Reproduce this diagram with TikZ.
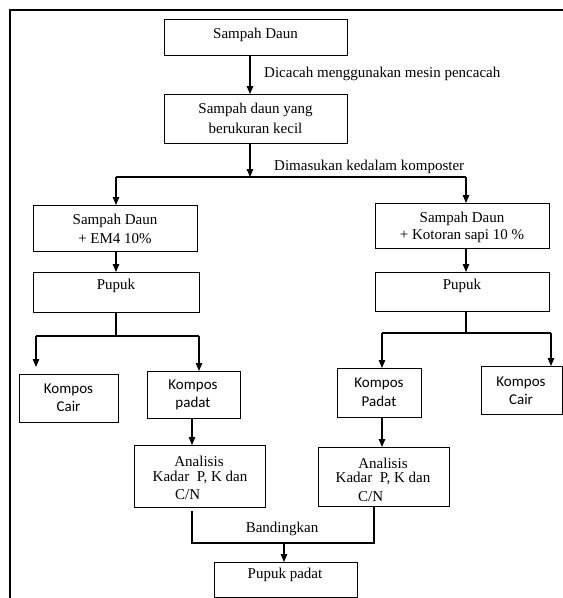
\documentclass[tikz,border=0pt]{standalone}
\usepackage{fontspec}
\setmainfont{Liberation Serif}
\newfontfamily\kfont{Carlito}
\usetikzlibrary{arrows.meta}
\tikzset{
  box/.style={draw, line width=1.2pt, inner sep=0pt, anchor=north west},
  txt/.style={font=\fontsize{15}{17}\selectfont, inner sep=0pt, anchor=center, yshift=-1.5pt},
  ktxt/.style={font=\kfont\fontsize{15}{17}\selectfont, inner sep=0pt, anchor=center, yshift=-1pt},
  conn/.style={line width=1.1pt},
  arr/.style={line width=1.1pt, -{Triangle[length=8pt,width=6.5pt]}},
}
\begin{document}
\begin{tikzpicture}[x=1pt,y=-1pt]
\useasboundingbox (0,0) rectangle (563,598);
% frame
\draw[line width=1.2pt] (10,600) -- (10,10) -- (565,10);
% boxes
\node[box, minimum width=183pt, minimum height=36pt] (b1) at (164,19) {};
\node[box, minimum width=183pt, minimum height=49pt] (b2) at (164,94) {};
\node[box, minimum width=164pt, minimum height=46pt] (em) at (33,205) {};
\node[box, minimum width=174pt, minimum height=45pt] (ks) at (375,203) {};
\node[box, minimum width=166pt, minimum height=40pt] (pl) at (33,272) {};
\node[box, minimum width=174pt, minimum height=39pt] (pr) at (375,272) {};
\node[box, minimum width=99pt, minimum height=48pt] (kcl) at (19,374) {};
\node[box, minimum width=93pt, minimum height=47pt] (kpl) at (147,371) {};
\node[box, minimum width=84pt, minimum height=49pt] (kpr) at (337,368) {};
\node[box, minimum width=81pt, minimum height=48pt] (kcr) at (481,366) {};
\node[box, minimum width=131pt, minimum height=62pt] (al) at (134,445) {};
\node[box, minimum width=131pt, minimum height=59pt] (ar) at (318,447) {};
\node[box, minimum width=143pt, minimum height=35pt] (pp) at (214,562) {};
% texts
\node[txt] (t1) at (255.5,33) {Sampah Daun};
\node[txt] (t2a) at (255.5,108) {Sampah daun yang};
\node[txt] (t2b) at (255.5,127) {berukuran kecil};
\node[txt] (t3a) at (115,219) {Sampah Daun};
\node[txt] (t3b) at (115,237) {+ EM4 10\%};
\node[txt] (t4a) at (462,217) {Sampah Daun};
\node[txt] (t4b) at (462,235) {+ Kotoran sapi 10 \%};
\node[txt] (t5) at (116,284) {Pupuk};
\node[txt] (t6) at (462,284) {Pupuk};
\node[ktxt] (t7a) at (68.5,389) {Kompos};
\node[ktxt] (t7b) at (68.5,405) {Cair};
\node[ktxt] (t8a) at (193,385) {Kompos};
\node[ktxt] (t8b) at (193,402) {padat};
\node[ktxt] (t9a) at (379,383) {Kompos};
\node[ktxt] (t9b) at (379,400) {Padat};
\node[ktxt] (t10a) at (521,382) {Kompos};
\node[ktxt] (t10b) at (521,398) {Cair};
\node[txt] (t11a) at (199,460) {Analisis};
\node[txt] (t11b) at (200,476) {Kadar\ \ P, K dan};
\node[txt, anchor=west] (t11c) at (175,493) {C/N};
\node[txt] (t12a) at (383,462) {Analisis};
\node[txt] (t12b) at (383,477) {Kadar\ \ P, K dan};
\node[txt, anchor=west] (t12c) at (358,495) {C/N};
\node[txt] (t13) at (285,573) {Pupuk padat};
% edge labels
\node[txt, anchor=west] (l1) at (264,72) {Dicacah menggunakan mesin pencacah};
\node[txt, anchor=west] (l2) at (274,165) {Dimasukan kedalam komposter};
\node[txt] (l3) at (282,527) {Bandingkan};
% junction coordinates
\coordinate (j1) at (250,177);
\coordinate (j1l) at (116,177);
\coordinate (j1r) at (466,177);
\coordinate (j2) at (116,336);
\coordinate (j2l) at (36,336);
\coordinate (j2r) at (199,336);
\coordinate (j3) at (466,333);
\coordinate (j3l) at (382,333);
\coordinate (j3r) at (551,333);
\coordinate (j4l) at (192,543);
\coordinate (j4m) at (284,543);
\coordinate (j4r) at (374,543);
% connectors
\draw[arr] (b1.south -| j1) -- (b2.north -| j1);
\draw[arr] (b2.south -| j1) -- (j1);
\draw[conn] (j1l) -- (j1r);
\draw[arr] (j1l) -- (em.north -| j1l);
\draw[arr] (j1r) -- (ks.north -| j1r);
\draw[arr] (em.south -| j1l) -- (pl.north -| j1l);
\draw[arr] (ks.south -| j1r) -- (pr.north -| j1r);
\draw[conn] (pl.south -| j2) -- (j2);
\draw[conn] (j2l) -- (j2r);
\draw[arr] (j2l) -- ([yshift=7pt]kcl.north -| j2l);
\draw[arr] (j2r) -- (kpl.north -| j2r);
\draw[conn] (pr.south -| j3) -- (j3);
\draw[conn] (j3l) -- (j3r);
\draw[arr] (j3l) -- (kpr.north -| j3l);
\draw[arr] (j3r) -- (kcr.north -| j3r);
\draw[arr] (kpl.south -| j4l) -- (al.north -| j4l);
\draw[arr] (kpr.south -| j3l) -- (ar.north -| j3l);
\draw[conn] ([yshift=-3pt]al.south -| j4l) -- (j4l) -- (j4r) -- (ar.south -| j4r);
\draw[arr] (j4m) -- (pp.north -| j4m);
\end{tikzpicture}
\end{document}
